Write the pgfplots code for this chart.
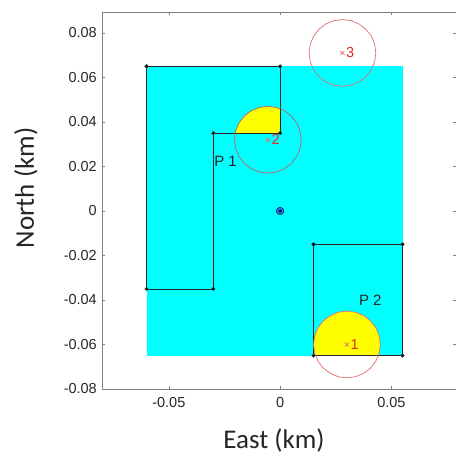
\documentclass[border=0pt]{standalone}
\usepackage{pgfplots}
\pgfplotsset{compat=1.18}
\usepackage{fontspec}
\setmainfont{Liberation Sans}
\newfontfamily\labelfont{Carlito}
\definecolor{circ}{RGB}{225,110,110}
\definecolor{numred}{RGB}{225,40,40}
\definecolor{dotblue}{RGB}{40,120,235}
\definecolor{dotdark}{RGB}{20,50,150}
\definecolor{axgray}{RGB}{128,128,128}
\definecolor{cov}{RGB}{0,255,255}
\definecolor{yel}{RGB}{255,255,0}
\begin{document}
\begin{tikzpicture}
\path[use as bounding box] (-102bp,-66bp) rectangle (354bp,389bp);
\begin{axis}[
  at={(0,0)}, anchor=south west,
  scale only axis, width=354bp, height=377bp,
  xmin=-0.08, xmax=0.079, ymin=-0.08, ymax=0.0894,
  scaled ticks=false,
  axis line style={axgray}, tick style={axgray, line width=0.5bp},
  tick align=inside, tick pos=both, major tick length=3.5bp,
  xtick={-0.05,0,0.05}, xticklabels={-0.05,0,0.05},
  ytick={-0.08,-0.06,-0.04,-0.02,0,0.02,0.04,0.06,0.08},
  yticklabels={-0.08,-0.06,-0.04,-0.02,0,0.02,0.04,0.06,0.08},
  ticklabel style={font=\fontsize{14.5bp}{17bp}\selectfont, text=black!85},
  yticklabel style={anchor=east, inner sep=0pt, xshift=-5bp},
  xticklabel style={anchor=north, inner sep=0pt, yshift=-8bp},
  xlabel={East (km)}, ylabel={North (km)},
  xlabel style={font=\labelfont\fontsize{27bp}{30bp}\selectfont, text=black!85, at={(rel axis cs:0.486,0)}, anchor=base, yshift=-59bp, inner sep=0pt},
  ylabel style={font=\labelfont\fontsize{27bp}{30bp}\selectfont, text=black!85, at={(rel axis cs:-0.215,0.533)}, anchor=center, inner sep=0pt},
  clip=false,
]
% covered area
\addplot[fill=cov, draw=none] coordinates {(-0.06,-0.065) (0.055,-0.065) (0.055,0.065) (-0.06,0.065)};
% yellow areas
\addplot[fill=yel, draw=none] coordinates {
 (0.04414,-0.065) (0.04500,-0.06000) (0.04449,-0.05612) (0.04299,-0.05250) (0.04061,-0.04939)
 (0.03750,-0.04701) (0.03388,-0.04551) (0.03000,-0.04500) (0.02612,-0.04551) (0.02250,-0.04701)
 (0.01939,-0.04939) (0.01701,-0.05250) (0.01551,-0.05612) (0.01500,-0.06000) (0.01551,-0.06388)
 (0.01586,-0.065)};
\addplot[fill=yel, draw=none] coordinates {
 (0,0.035) (0,0.04596) (-0.00162,0.04649) (-0.00550,0.04700) (-0.00938,0.04649) (-0.01300,0.04499)
 (-0.01611,0.04261) (-0.01849,0.03950) (-0.01999,0.03588) (-0.02020,0.035)};
% polygons
\addplot[black!85, line width=0.6bp, mark=*, mark size=1.6bp, mark options={fill=black}] coordinates {
 (-0.06,0.065) (0,0.065) (0,0.035) (-0.03,0.035) (-0.03,-0.035) (-0.06,-0.035) (-0.06,0.065)};
\addplot[black!85, line width=0.6bp, mark=*, mark size=1.6bp, mark options={fill=black}] coordinates {
 (0.015,-0.015) (0.055,-0.015) (0.055,-0.065) (0.015,-0.065) (0.015,-0.015)};
% circles
\addplot[circ, line width=0.7bp] coordinates {
 (0.04300,0.07100) (0.04249,0.07488) (0.04099,0.07850) (0.03861,0.08161) (0.03550,0.08399) (0.03188,0.08549)
 (0.02800,0.08600) (0.02412,0.08549) (0.02050,0.08399) (0.01739,0.08161) (0.01501,0.07850) (0.01351,0.07488)
 (0.01300,0.07100) (0.01351,0.06712) (0.01501,0.06350) (0.01739,0.06039) (0.02050,0.05801) (0.02412,0.05651)
 (0.02800,0.05600) (0.03188,0.05651) (0.03550,0.05801) (0.03861,0.06039) (0.04099,0.06350) (0.04249,0.06712)
 (0.04300,0.07100)};
\addplot[circ, line width=0.7bp] coordinates {
 (0.04500,-0.06000) (0.04449,-0.05612) (0.04299,-0.05250) (0.04061,-0.04939) (0.03750,-0.04701) (0.03388,-0.04551)
 (0.03000,-0.04500) (0.02612,-0.04551) (0.02250,-0.04701) (0.01939,-0.04939) (0.01701,-0.05250) (0.01551,-0.05612)
 (0.01500,-0.06000) (0.01551,-0.06388) (0.01701,-0.06750) (0.01939,-0.07061) (0.02250,-0.07299) (0.02612,-0.07449)
 (0.03000,-0.07500) (0.03388,-0.07449) (0.03750,-0.07299) (0.04061,-0.07061) (0.04299,-0.06750) (0.04449,-0.06388)
 (0.04500,-0.06000)};
\addplot[circ!85!black, line width=0.7bp] coordinates {
 (0.00950,0.03200) (0.00899,0.03588) (0.00749,0.03950) (0.00511,0.04261) (0.00200,0.04499) (-0.00162,0.04649)
 (-0.00550,0.04700) (-0.00938,0.04649) (-0.01300,0.04499) (-0.01611,0.04261) (-0.01849,0.03950) (-0.01999,0.03588)
 (-0.02050,0.03200) (-0.01999,0.02812) (-0.01849,0.02450) (-0.01611,0.02139) (-0.01300,0.01901) (-0.00938,0.01751)
 (-0.00550,0.01700) (-0.00162,0.01751) (0.00200,0.01901) (0.00511,0.02139) (0.00749,0.02450) (0.00899,0.02812)
 (0.00950,0.03200)};
% source markers
\addplot[only marks, mark=x, mark size=2.8bp, circ, line width=0.7bp] coordinates {(0.030,-0.060) (-0.0055,0.032) (0.028,0.071)};
% centre
\addplot[only marks, mark=*, mark size=3.8bp, draw=none, fill=dotblue] coordinates {(0,0)};
\addplot[only marks, mark=*, mark size=1.5bp, draw=none, fill=dotdark] coordinates {(0,0)};
% labels
\node[anchor=west, inner sep=0pt, text=numred, font=\fontsize{14.5bp}{16bp}\selectfont] at (axis cs:0.030,-0.060) [xshift=3.5bp] {1};
\node[anchor=west, inner sep=0pt, text=numred, font=\fontsize{14.5bp}{16bp}\selectfont] at (axis cs:-0.0055,0.032) [xshift=3.5bp] {2};
\node[anchor=west, inner sep=0pt, text=numred, font=\fontsize{14.5bp}{16bp}\selectfont] at (axis cs:0.028,0.071) [xshift=3.5bp] {3};
\node[inner sep=0pt, text=black!85, font=\fontsize{15bp}{17bp}\selectfont] at (axis cs:-0.0245,0.0225) {P 1};
\node[inner sep=0pt, text=black!85, font=\fontsize{15bp}{17bp}\selectfont] at (axis cs:0.0405,-0.040) {P 2};
\end{axis}
\end{tikzpicture}
\end{document}
